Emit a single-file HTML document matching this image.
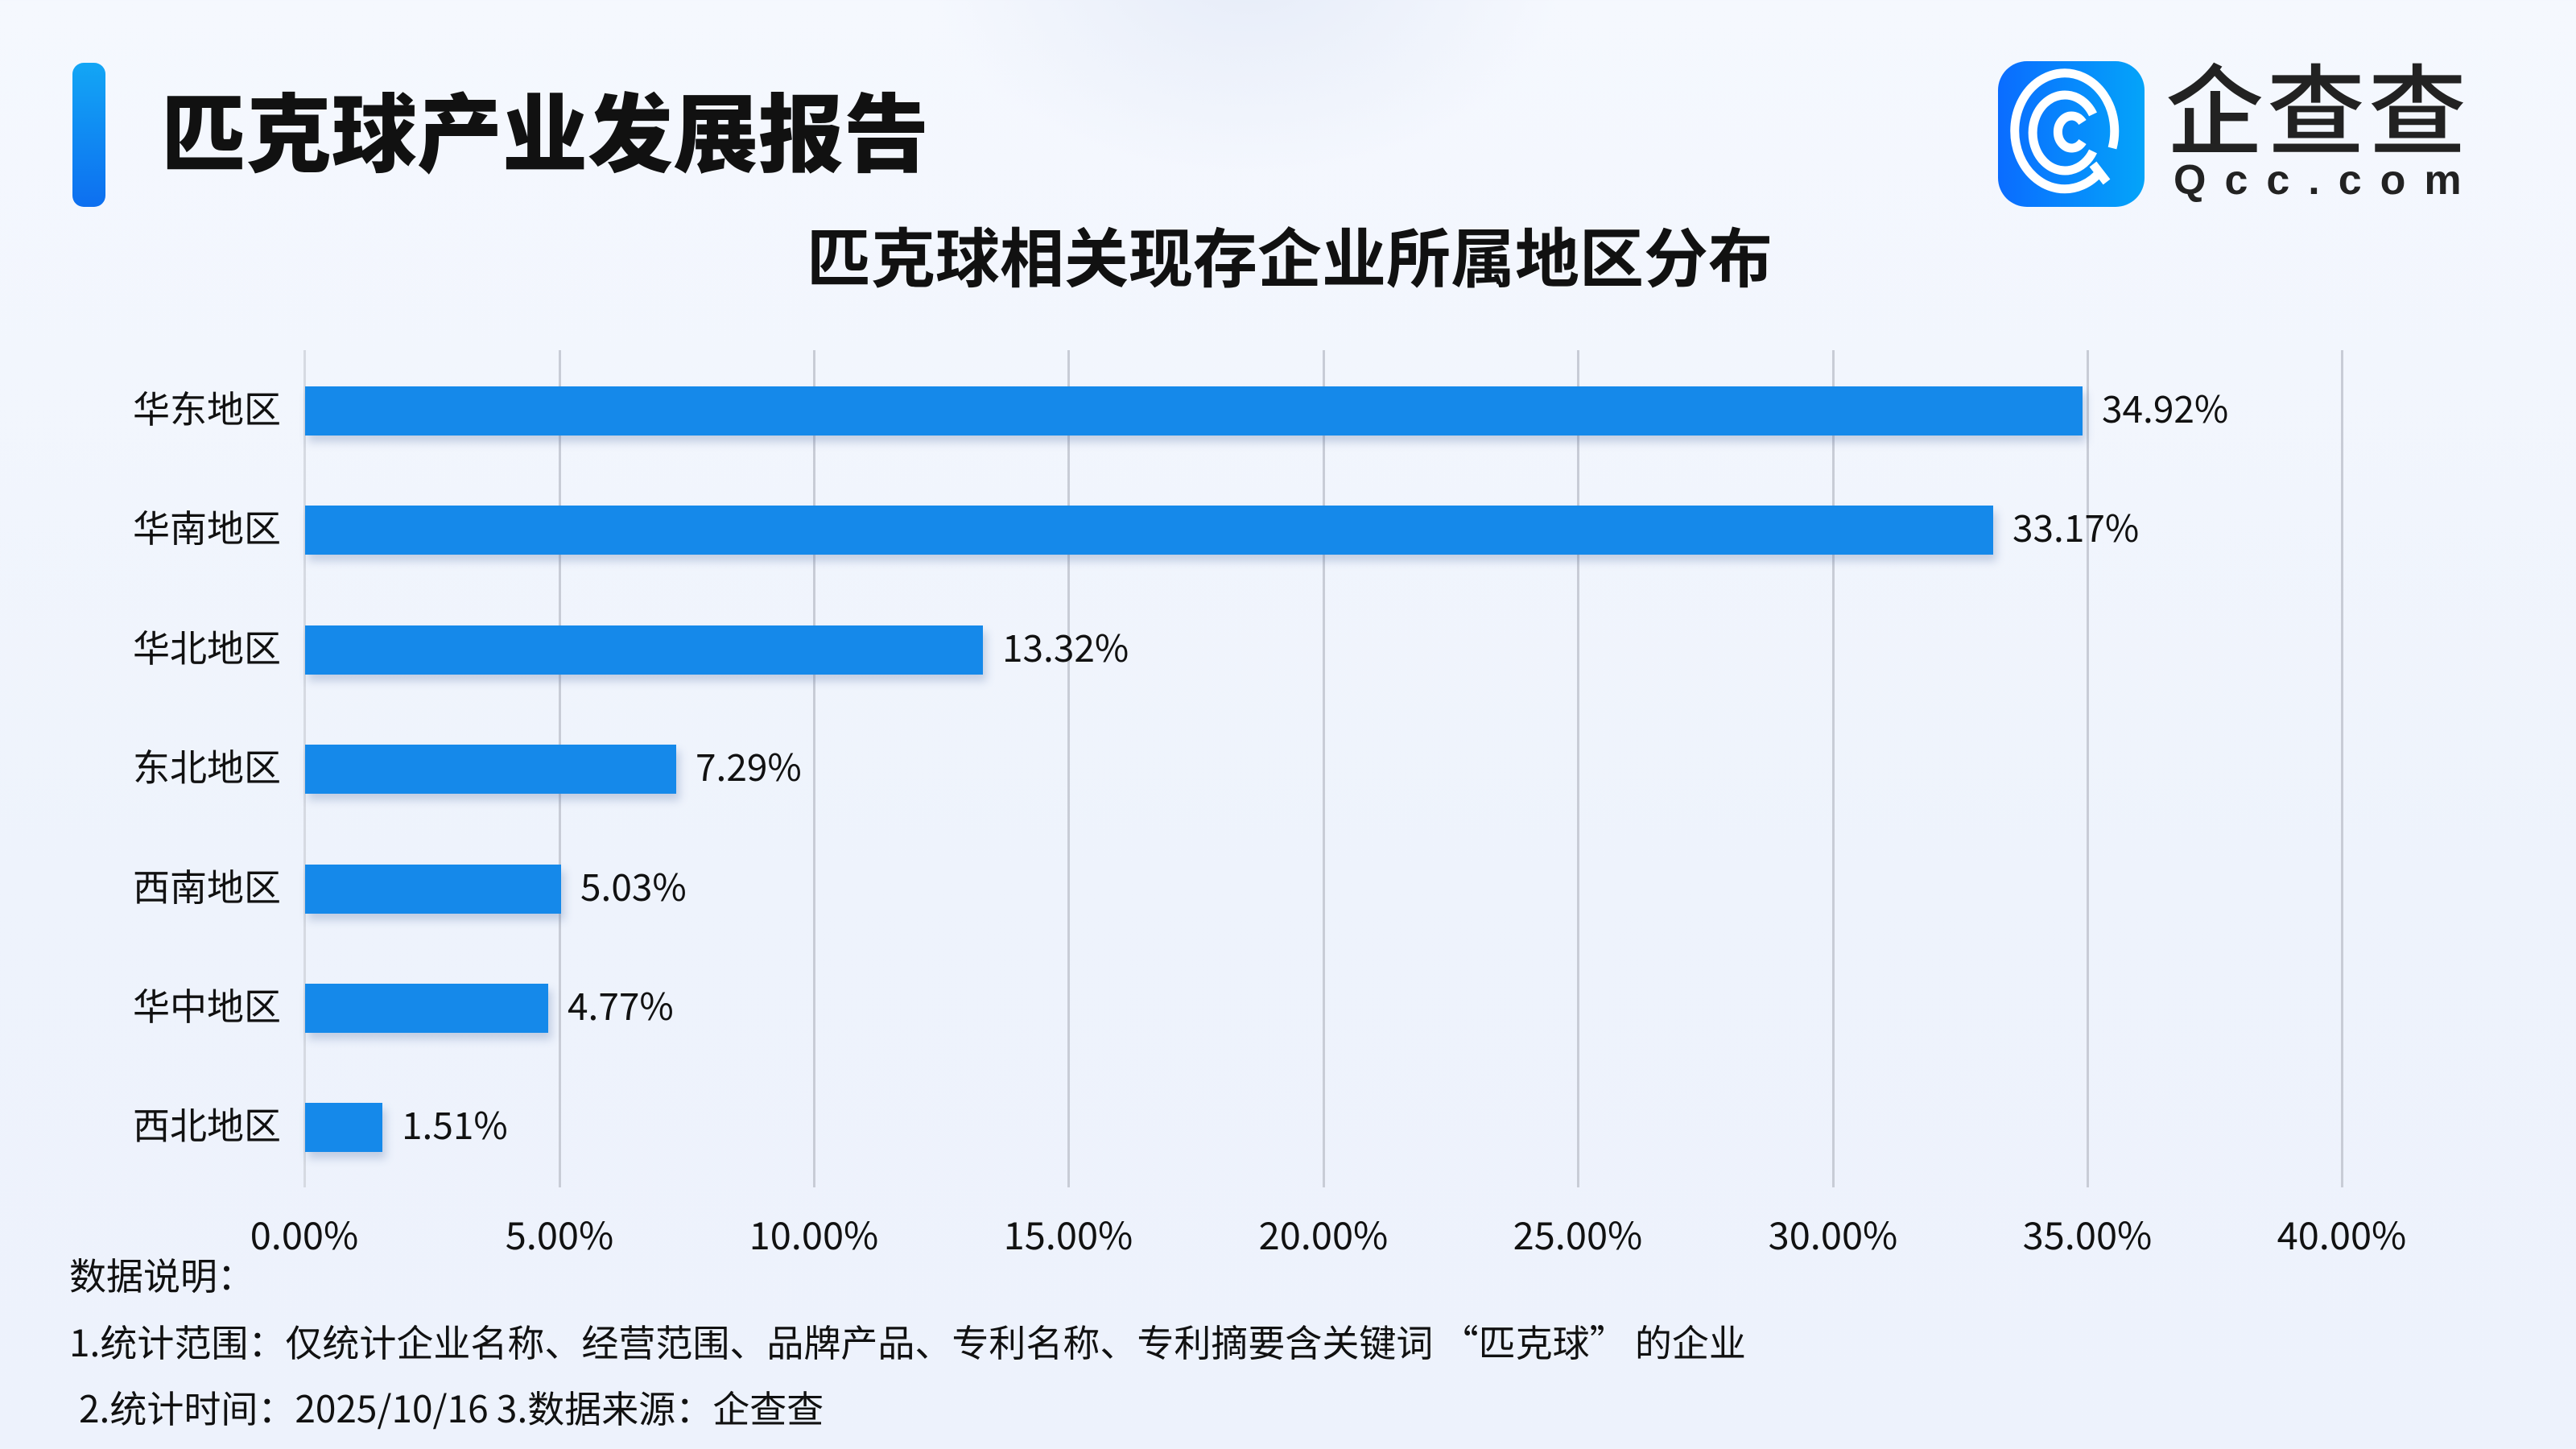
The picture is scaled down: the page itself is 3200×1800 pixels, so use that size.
<!DOCTYPE html>
<html><head><meta charset="utf-8"><style>
*{margin:0;padding:0}
body{width:3200px;height:1800px;overflow:hidden;position:relative;background:linear-gradient(180deg,#f5f8fe 0%,#eef3fc 60%,#edf2fc 100%);font-family:"Noto Sans CJK SC",sans-serif;color:#111}
.abs{position:absolute}
.glow{left:1150px;top:-300px;width:800px;height:520px;border-radius:50%;background:radial-gradient(ellipse,#e6ecf8 0%,rgba(230,236,248,0) 70%)}
.hbar{left:90px;top:78px;width:41px;height:179px;border-radius:14px;background:linear-gradient(180deg,#13a6f5,#0d6ff0)}
.h1{left:200px;top:95px;font-size:106px;font-weight:900;line-height:128px;letter-spacing:0px}
.title{left:0;width:3204px;text-align:center;top:268px;font-size:80px;font-weight:700;line-height:96px}
.grid{top:435px;width:3px;height:1040px;background:#c8ccd6}
.bar{left:379px;height:61px;background:#1589ea;box-shadow:4px 8px 10px rgba(60,90,150,.25)}
.cat{right:2851px;font-size:46px;line-height:60px;white-space:nowrap}
.val{font-size:46px;line-height:60px;white-space:nowrap}
.tick{top:1504px;font-size:47px;width:300px;text-align:center;line-height:56px}
.foot{left:86px;font-size:46px;line-height:56px;white-space:nowrap}
</style></head><body>
<div class="abs glow"></div>
<div class="abs hbar"></div>
<div class="abs h1">匹克球产业发展报告</div>
<svg class="abs" style="left:2482px;top:76px" width="182" height="181" viewBox="0 0 182 181">
<defs><linearGradient id="g" x1="0" x2="1"><stop offset="0" stop-color="#0a6cff"/><stop offset="1" stop-color="#04a4f9"/></linearGradient></defs>
<rect width="182" height="181" rx="36" fill="url(#g)"/>
<g fill="none" stroke="#fff" stroke-width="11" stroke-linecap="butt">
<path d="M128 136 A62 72 0 1 1 142 108"/>
<path d="M118 112 A40 47 0 1 1 118 66"/>
<path d="M105 100 A17 20 0 1 1 105 76"/>
<path d="M118 128 L135 150"/>
</g></svg>
<div class="abs" style="left:2690px;top:60px;font-size:122px;line-height:140px;letter-spacing:4px;color:#222;font-weight:500">企查查</div>
<div class="abs" style="left:2700px;top:194px;font-size:52px;line-height:60px;letter-spacing:23px;color:#222;font-weight:700;font-family:'Liberation Sans',sans-serif">Qcc.com</div>
<div class="abs title">匹克球相关现存企业所属地区分布</div>

<div class="abs grid" style="left:377px;background:#d6dae2"></div>
<div class="abs grid" style="left:694px"></div>
<div class="abs grid" style="left:1010px"></div>
<div class="abs grid" style="left:1326px"></div>
<div class="abs grid" style="left:1643px"></div>
<div class="abs grid" style="left:1959px"></div>
<div class="abs grid" style="left:2276px"></div>
<div class="abs grid" style="left:2592px"></div>
<div class="abs grid" style="left:2908px"></div>

<div class="abs bar" style="top:480px;width:2208px"></div>
<div class="abs bar" style="top:628px;width:2097px"></div>
<div class="abs bar" style="top:777px;width:842px"></div>
<div class="abs bar" style="top:925px;width:461px"></div>
<div class="abs bar" style="top:1074px;width:318px"></div>
<div class="abs bar" style="top:1222px;width:302px"></div>
<div class="abs bar" style="top:1370px;width:96px"></div>

<div class="abs cat" style="top:476px">华东地区</div>
<div class="abs cat" style="top:624px">华南地区</div>
<div class="abs cat" style="top:773px">华北地区</div>
<div class="abs cat" style="top:921px">东北地区</div>
<div class="abs cat" style="top:1070px">西南地区</div>
<div class="abs cat" style="top:1218px">华中地区</div>
<div class="abs cat" style="top:1366px">西北地区</div>

<div class="abs val" style="left:2611px;top:476px">34.92%</div>
<div class="abs val" style="left:2500px;top:624px">33.17%</div>
<div class="abs val" style="left:1245px;top:773px">13.32%</div>
<div class="abs val" style="left:864px;top:921px">7.29%</div>
<div class="abs val" style="left:721px;top:1070px">5.03%</div>
<div class="abs val" style="left:705px;top:1218px">4.77%</div>
<div class="abs val" style="left:499px;top:1366px">1.51%</div>

<div class="abs tick" style="left:228px">0.00%</div>
<div class="abs tick" style="left:545px">5.00%</div>
<div class="abs tick" style="left:861px">10.00%</div>
<div class="abs tick" style="left:1177px">15.00%</div>
<div class="abs tick" style="left:1494px">20.00%</div>
<div class="abs tick" style="left:1810px">25.00%</div>
<div class="abs tick" style="left:2127px">30.00%</div>
<div class="abs tick" style="left:2443px">35.00%</div>
<div class="abs tick" style="left:2759px">40.00%</div>

<div class="abs foot" style="top:1555px">数据说明：</div>
<div class="abs foot" style="top:1638px">1.统计范围：仅统计企业名称、经营范围、品牌产品、专利名称、专利摘要含关键词 “匹克球” 的企业</div>
<div class="abs foot" style="top:1720px;left:98px">2.统计时间：2025/10/16 3.数据来源：企查查</div>
</body></html>
